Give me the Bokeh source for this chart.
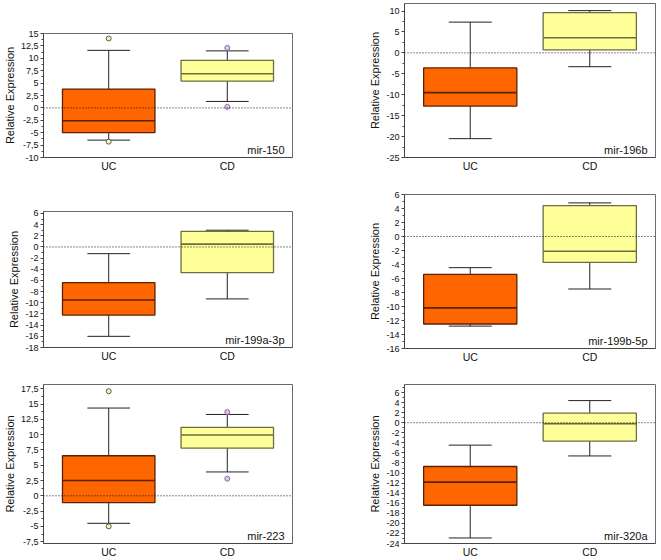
import numpy as np
from bokeh.plotting import figure
from bokeh.layouts import column, row
from bokeh.models import (Range1d, FixedTicker, SingleIntervalTicker, CustomJSTickFormatter,
                          Span, Label, ColumnDataSource)
from bokeh.embed import file_html
from bokeh.resources import INLINE

# ---------------- data ----------------
categories = ["UC", "CD"]
mirnas = ["mir-150", "mir-196b", "mir-199a-3p", "mir-199b-5p", "mir-223", "mir-320a"]

# box-plot statistics per panel: [UC, CD]
lower_whisker = [[-6.5, 1.3], [-20.5, -3.3], [-16.0, -9.3], [-12.8, -7.5], [-4.5, 3.9], [-22.9, -6.6]]
q1 = [[-5.0, 5.4], [-12.7, 0.7], [-12.2, -4.6], [-12.5, -3.7], [-1.1, 7.8], [-16.4, -3.65]]
median = [[-2.6, 6.9], [-9.5, 3.6], [-9.5, 0.5], [-10.2, -2.1], [2.5, 9.95], [-11.8, -0.2]]
q3 = [[3.8, 9.6], [-3.6, 9.6], [-6.4, 2.8], [-5.4, 4.4], [6.55, 11.2], [-8.7, 1.9]]
upper_whisker = [[11.6, 11.5], [7.35, 10.1], [-1.2, 3.0], [-4.45, 4.8], [14.35, 13.3], [-4.45, 4.4]]

# outliers: panel index, group index, value
outlier_panel = [0, 0, 0, 0, 4, 4, 4, 4]
outlier_group = [0, 0, 1, 1, 0, 0, 1, 1]
outlier_value = [14.0, -6.8, 12.1, 0.2, 17.1, -5.0, 13.7, 2.8]

# y axis settings per panel
y_min = [-10, -25, -18, -16, -7.8, -24]
y_max = [15, 11.8, 6.35, 6, 18.2, 7.6]
y_tick_step = [2.5, 5, 2, 2, 2.5, 2]

# ---------------- style ----------------
FONT = "Liberation Sans"
box_fill = ["#FF6600", "#FFFF99"]
box_line = ["#5a2200", "#6e6e3c"]
out_fill = ["#f2f2c4", "#dcc8e8"]
out_line = ["#5e5e30", "#8e6aa2"]

x_pos = np.arange(len(categories), dtype=float)
X_LO, X_HI = -0.55, 1.55
BOX_W = 0.78
CAP_W = 0.36

# (width, height, border_left, border_right, border_top, border_bottom)
geom = [
    (330, 180, 43, 38, 33, 23),
    (331, 175, 74, 6, 3, 18),
    (330, 185, 43, 38, 31, 18),
    (331, 190, 74, 6, 19, 17),
    (330, 195, 43, 38, 19, 15),
    (331, 195, 74, 6, 19, 14),
]


def make_panel(i):
    w, h, bl, br, bt, bb = geom[i]
    p = figure(width=w, height=h, output_backend="svg", toolbar_location=None,
               x_range=Range1d(X_LO, X_HI), y_range=Range1d(y_min[i], y_max[i]),
               min_border_left=bl, min_border_right=br, min_border_top=bt, min_border_bottom=bb)
    p.xgrid.visible = False
    p.ygrid.visible = False
    p.outline_line_color = "#6a6a6a"
    p.outline_line_width = 1
    p.background_fill_color = "white"
    p.border_fill_color = "white"

    lw = np.array(lower_whisker[i]); uw = np.array(upper_whisker[i])
    lo = np.array(q1[i]); hi = np.array(q3[i]); md = np.array(median[i])

    # whisker stems
    p.segment(x0=x_pos, x1=x_pos, y0=hi, y1=uw, line_color="#222222", line_width=1)
    p.segment(x0=x_pos, x1=x_pos, y0=lo, y1=lw, line_color="#222222", line_width=1)
    # caps
    p.segment(x0=x_pos - CAP_W / 2, x1=x_pos + CAP_W / 2, y0=uw, y1=uw, line_color="#222222", line_width=1)
    p.segment(x0=x_pos - CAP_W / 2, x1=x_pos + CAP_W / 2, y0=lw, y1=lw, line_color="#222222", line_width=1)
    # boxes
    src = ColumnDataSource(dict(x=x_pos, top=hi, bottom=lo, fill=box_fill, line=box_line))
    p.vbar(x="x", top="top", bottom="bottom", width=BOX_W, fill_color="fill", line_color="line",
           line_width=1.3, source=src)
    # medians
    p.segment(x0=x_pos - BOX_W / 2, x1=x_pos + BOX_W / 2, y0=md, y1=md, line_color=box_line, line_width=1.6)

    # outliers
    ox, oy, of, ol = [], [], [], []
    for pi, g, v in zip(outlier_panel, outlier_group, outlier_value):
        if pi == i:
            ox.append(x_pos[g]); oy.append(v); of.append(out_fill[g]); ol.append(out_line[g])
    if ox:
        p.scatter(x=ox, y=oy, size=5, marker="circle", fill_color=of, line_color=ol, line_width=1)

    # zero reference line
    p.add_layout(Span(location=0, dimension="width", line_color="#111111", line_width=1, line_dash="1 2"))

    # panel label
    p.add_layout(Label(x=X_HI, y=y_min[i], x_offset=-8, y_offset=8, text=mirnas[i],
                       text_align="right", text_baseline="alphabetic", text_font=FONT,
                       text_font_size="11px", text_color="#111111"))

    # x axis
    xa = p.xaxis[0]
    xa.ticker = FixedTicker(ticks=list(x_pos))
    xa.major_label_overrides = {float(k): c for k, c in zip(x_pos, categories)}
    xa.major_tick_out = 0
    xa.major_tick_in = 0
    xa.minor_tick_out = 0
    xa.minor_tick_in = 0
    xa.major_label_standoff = 2
    xa.major_label_text_font = FONT
    xa.major_label_text_font_size = "10.5px"
    xa.major_label_text_color = "#111111"
    xa.axis_line_color = "#444444"

    # y axis
    ya = p.yaxis[0]
    ya.ticker = SingleIntervalTicker(interval=y_tick_step[i], num_minor_ticks=2)
    ya.formatter = CustomJSTickFormatter(
        code="var s = (Math.round(tick * 10) / 10).toString(); return s.replace('.', ',');")
    ya.major_tick_out = 3
    ya.major_tick_in = 0
    ya.minor_tick_out = 2
    ya.minor_tick_in = 0
    ya.major_label_standoff = 2
    ya.major_label_text_font = FONT
    ya.major_label_text_font_size = "9px"
    ya.major_label_text_color = "#111111"
    ya.axis_line_color = "#444444"
    ya.major_tick_line_color = "#444444"
    ya.minor_tick_line_color = "#444444"
    ya.axis_label = "Relative Expression"
    ya.axis_label_text_font = FONT
    ya.axis_label_text_font_size = "11px"
    ya.axis_label_text_font_style = "normal"
    ya.axis_label_text_color = "#111111"
    ya.axis_label_standoff = 2
    return p


panels = [make_panel(i) for i in range(6)]
layout = row(column(panels[0], panels[2], panels[4]), column(panels[1], panels[3], panels[5]))

open("out.html", "w").write(file_html(layout, INLINE))
